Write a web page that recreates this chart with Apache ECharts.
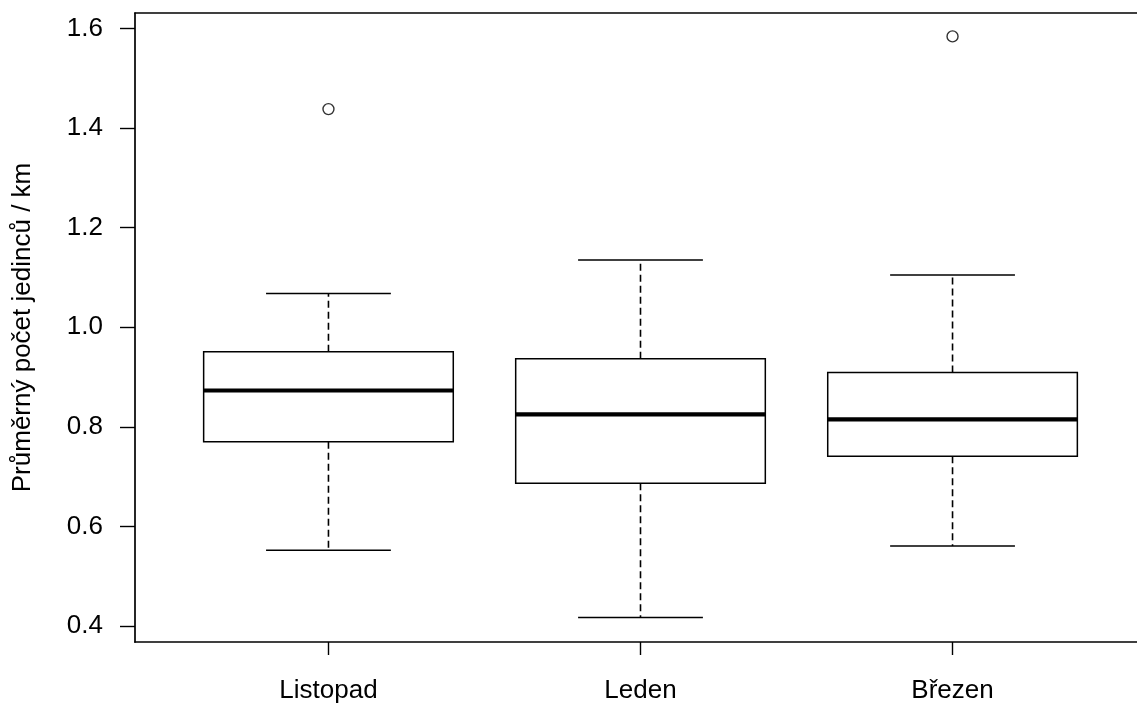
<!DOCTYPE html>
<html>
<head>
<meta charset="utf-8">
<script src="https://cdn.jsdelivr.net/npm/echarts@6/dist/echarts.min.js"></script>
<style>html,body{margin:0;padding:0;background:#fff;}#c{width:1137px;height:705px;}</style>
</head>
<body>
<div id="c"></div>
<script>
var categories = ['Listopad', 'Leden', 'Březen'];
var lowWhisker = [0.552, 0.417, 0.561];
var q1 = [0.770, 0.687, 0.741];
var median = [0.873, 0.825, 0.815];
var q3 = [0.951, 0.937, 0.909];
var highWhisker = [1.068, 1.135, 1.105];
var outlierCat = [0, 2];
var outlierVal = [1.438, 1.584];
var yTicks = [0.4, 0.6, 0.8, 1.0, 1.2, 1.4, 1.6];
var yTitle = 'Průměrný počet jedinců / km';

var boxData = categories.map(function (c, i) {
  return [i + 1, lowWhisker[i], q1[i], median[i], q3[i], highWhisker[i]];
});
var outData = outlierCat.map(function (ci, k) { return [ci + 1, outlierVal[k]]; });

var FONT = '"Liberation Sans", Arial, sans-serif';
var FS = 26;
var chart = echarts.init(document.getElementById('c'), null, { renderer: 'canvas' });
chart.setOption({
  animation: false,
  backgroundColor: '#fff',
  grid: { left: 135, top: 13, width: 1011, height: 629, show: false,
    containLabel: false, outerBoundsMode: 'none' },
  xAxis: [{
    type: 'value', min: 0.38, max: 3.62,
    axisLine: { show: true, lineStyle: { color: '#000', width: 1.7 } },
    axisTick: { show: true, length: 13, customValues: [1, 2, 3], lineStyle: { color: '#000', width: 1.4 } },
    axisLabel: { customValues: [1, 2, 3], margin: 36, fontSize: FS, fontFamily: FONT, color: '#000',
      formatter: function (v) { return categories[Math.round(v) - 1] || ''; } },
    splitLine: { show: false }
  }, {
    type: 'value', position: 'top', min: 0.38, max: 3.62,
    axisLine: { show: true, onZero: false, lineStyle: { color: '#000', width: 1.7 } },
    axisTick: { show: false }, axisLabel: { show: false }, splitLine: { show: false }
  }],
  yAxis: {
    type: 'value', min: 0.368, max: 1.631,
    name: yTitle, nameLocation: 'middle', nameGap: 99, nameRotate: 90,
    nameTextStyle: { fontSize: FS, fontFamily: FONT, color: '#000' },
    axisLine: { show: true, lineStyle: { color: '#000', width: 1.7 } },
    axisTick: { show: true, length: 15, customValues: yTicks, lineStyle: { color: '#000', width: 1.4 } },
    axisLabel: { customValues: yTicks, margin: 32, fontSize: FS, fontFamily: FONT, color: '#000',
      formatter: function (v) { return Number(v).toFixed(1); } },
    splitLine: { show: false }
  },
  series: [
    {
      type: 'custom',
      data: boxData,
      encode: { x: 0, y: [1, 2, 3, 4, 5] },
      clip: false,
      renderItem: function (params, api) {
        var x = api.value(0);
        var pLo = api.coord([x, api.value(1)]);
        var pQ1 = api.coord([x, api.value(2)]);
        var pMd = api.coord([x, api.value(3)]);
        var pQ3 = api.coord([x, api.value(4)]);
        var pHi = api.coord([x, api.value(5)]);
        var cx = pMd[0];
        var hb = api.coord([x + 0.4, api.value(3)])[0] - cx;
        var hc = api.coord([x + 0.2, api.value(3)])[0] - cx;
        var solid = { stroke: '#000', lineWidth: 1.5, fill: null };
        var dashed = { stroke: '#000', lineWidth: 1.6, lineDash: [7, 4] };
        return {
          type: 'group',
          children: [
            { type: 'line', shape: { x1: cx, y1: pQ3[1], x2: cx, y2: pHi[1] }, style: dashed },
            { type: 'line', shape: { x1: cx, y1: pQ1[1], x2: cx, y2: pLo[1] }, style: dashed },
            { type: 'line', shape: { x1: cx - hc, y1: pHi[1], x2: cx + hc, y2: pHi[1] }, style: solid },
            { type: 'line', shape: { x1: cx - hc, y1: pLo[1], x2: cx + hc, y2: pLo[1] }, style: solid },
            { type: 'rect', shape: { x: cx - hb, y: pQ3[1], width: 2 * hb, height: pQ1[1] - pQ3[1] }, style: { stroke: '#000', lineWidth: 1.5, fill: '#fff' } },
            { type: 'line', shape: { x1: cx - hb, y1: pMd[1], x2: cx + hb, y2: pMd[1] }, style: { stroke: '#000', lineWidth: 4.2 } }
          ]
        };
      }
    },
    {
      type: 'scatter',
      data: outData,
      symbol: 'circle',
      symbolSize: 11,
      itemStyle: { color: '#fff', borderColor: '#000', borderWidth: 1.4 }
    }
  ]
});
</script>
</body>
</html>
